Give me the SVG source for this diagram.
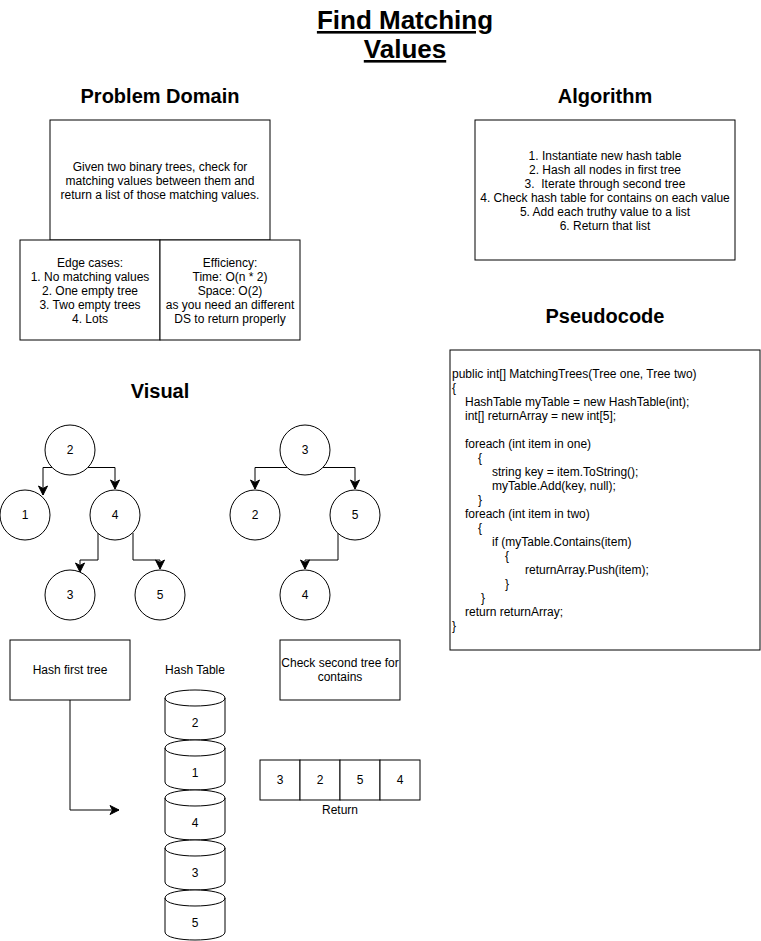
<svg xmlns="http://www.w3.org/2000/svg" width="761" height="941" viewBox="0 0 761 941">
<style>
text{font-family:"Liberation Sans",Arial,Helvetica,sans-serif;font-size:12px;fill:#000}
.c{text-anchor:middle}
.h{font-size:20px;font-weight:bold;text-anchor:middle}
.t{font-size:26px;font-weight:bold;text-anchor:middle;text-decoration:underline}
.box{fill:#fff;stroke:#000;stroke-width:1}
.e{fill:none;stroke:#000;stroke-width:1;marker-end:url(#arr)}
</style>
<defs>
<marker id="arr" markerUnits="userSpaceOnUse" viewBox="-10 -6 12 12" refX="0" refY="0" markerWidth="12" markerHeight="12" orient="auto">
<path d="M0,0 L-9,-4.5 L-6.5,0 L-9,4.5 Z" fill="#000" stroke="#000" stroke-width="1"/>
</marker>
</defs>
<rect width="761" height="941" fill="#fff"/>

<g id="title">
<text class="t" x="405" y="29">Find Matching</text>
<text class="t" x="405" y="58">Values</text>
</g>
<g id="h-problem"><text class="h" x="160" y="103">Problem Domain</text></g>
<g id="h-algorithm"><text class="h" x="605" y="103">Algorithm</text></g>
<g id="h-pseudocode"><text class="h" x="605" y="323">Pseudocode</text></g>
<g id="h-visual"><text class="h" x="160" y="398">Visual</text></g>

<g id="problem">
<rect class="box" x="50" y="120" width="220" height="120"/>
<text class="c" x="160" y="171">Given two binary trees, check for</text>
<text class="c" x="160" y="185">matching values between them and</text>
<text class="c" x="160" y="199">return a list of those matching values.</text>
</g>
<g id="edge-cases">
<rect class="box" x="20" y="240" width="140" height="100"/>
<text class="c" x="90" y="267">Edge cases:</text>
<text class="c" x="90" y="281">1. No matching values</text>
<text class="c" x="90" y="295">2. One empty tree</text>
<text class="c" x="90" y="309">3. Two empty trees</text>
<text class="c" x="90" y="323">4. Lots</text>
</g>
<g id="efficiency">
<rect class="box" x="160" y="240" width="140" height="100"/>
<text class="c" x="230" y="267">Efficiency:</text>
<text class="c" x="230" y="281">Time: O(n * 2)</text>
<text class="c" x="230" y="295">Space: O(2)</text>
<text class="c" x="230" y="309">as you need an different</text>
<text class="c" x="230" y="323">DS to return properly</text>
</g>
<g id="algorithm">
<rect class="box" x="475" y="120" width="260" height="140"/>
<text class="c" x="605" y="160">1. Instantiate new hash table</text>
<text class="c" x="605" y="174">2. Hash all nodes in first tree</text>
<text class="c" x="605" y="188" xml:space="preserve">3.  Iterate through second tree</text>
<text class="c" x="605" y="202">4. Check hash table for contains on each value</text>
<text class="c" x="605" y="216">5. Add each truthy value to a list</text>
<text class="c" x="605" y="230">6. Return that list</text>
</g>
<g id="pseudocode">
<rect class="box" x="450" y="350" width="310" height="300"/>
<text x="452" y="378">public int[] MatchingTrees(Tree one, Tree two)</text>
<text x="452" y="392">{</text>
<text x="465" y="406">HashTable myTable = new HashTable(int);</text>
<text x="465" y="420">int[] returnArray = new int[5];</text>
<text x="465" y="448">foreach (int item in one)</text>
<text x="478" y="462">{</text>
<text x="492" y="476">string key = item.ToString();</text>
<text x="492" y="490">myTable.Add(key, null);</text>
<text x="478" y="504">}</text>
<text x="465" y="518">foreach (int item in two)</text>
<text x="478" y="532">{</text>
<text x="492" y="546">if (myTable.Contains(item)</text>
<text x="505" y="560">{</text>
<text x="525" y="574">returnArray.Push(item);</text>
<text x="505" y="588">}</text>
<text x="481" y="602">}</text>
<text x="465" y="616">return returnArray;</text>
<text x="452" y="630">}</text>
</g>

<g id="connectors">
<path class="e" d="M52,467.5 H43 V495"/>
<path class="e" d="M88,467.5 H115 V489"/>
<path class="e" d="M98,533 V560 H80 V572"/>
<path class="e" d="M133,533 V560 H160 V569"/>
<path class="e" d="M287,467.5 H255 V489"/>
<path class="e" d="M323,467.5 H355 V489"/>
<path class="e" d="M338,533 V560 H305 V569"/>
<path class="e" d="M70,700 V810 H119"/>
</g>

<g id="t1-n2"><circle class="box" cx="70" cy="450" r="25"/><text class="c" x="70" y="454">2</text></g>
<g id="t1-n1"><circle class="box" cx="25" cy="515" r="25"/><text class="c" x="25" y="519">1</text></g>
<g id="t1-n4"><circle class="box" cx="115" cy="515" r="25"/><text class="c" x="115" y="519">4</text></g>
<g id="t1-n3"><circle class="box" cx="70" cy="595" r="25"/><text class="c" x="70" y="599">3</text></g>
<g id="t1-n5"><circle class="box" cx="160" cy="595" r="25"/><text class="c" x="160" y="599">5</text></g>

<g id="t2-n3"><circle class="box" cx="305" cy="450" r="25"/><text class="c" x="305" y="454">3</text></g>
<g id="t2-n2"><circle class="box" cx="255" cy="515" r="25"/><text class="c" x="255" y="519">2</text></g>
<g id="t2-n5"><circle class="box" cx="355" cy="515" r="25"/><text class="c" x="355" y="519">5</text></g>
<g id="t2-n4"><circle class="box" cx="305" cy="595" r="25"/><text class="c" x="305" y="599">4</text></g>

<g id="hash-first">
<rect class="box" x="10" y="640" width="120" height="60"/>
<text class="c" x="70" y="674">Hash first tree</text>
</g>
<g id="hash-table-label"><text class="c" x="195" y="674">Hash Table</text></g>
<g id="cyl-2">
<path class="box" d="M165,698 C165,687.33 225,687.33 225,698 L225,732 C225,742.67 165,742.67 165,732 Z"/>
<path fill="none" stroke="#000" d="M165,698 C165,708.67 225,708.67 225,698"/>
<text class="c" x="195" y="727">2</text>
</g>
<g id="cyl-1">
<path class="box" d="M165,748 C165,737.33 225,737.33 225,748 L225,782 C225,792.67 165,792.67 165,782 Z"/>
<path fill="none" stroke="#000" d="M165,748 C165,758.67 225,758.67 225,748"/>
<text class="c" x="195" y="777">1</text>
</g>
<g id="cyl-4">
<path class="box" d="M165,798 C165,787.33 225,787.33 225,798 L225,832 C225,842.67 165,842.67 165,832 Z"/>
<path fill="none" stroke="#000" d="M165,798 C165,808.67 225,808.67 225,798"/>
<text class="c" x="195" y="827">4</text>
</g>
<g id="cyl-3">
<path class="box" d="M165,848 C165,837.33 225,837.33 225,848 L225,882 C225,892.67 165,892.67 165,882 Z"/>
<path fill="none" stroke="#000" d="M165,848 C165,858.67 225,858.67 225,848"/>
<text class="c" x="195" y="877">3</text>
</g>
<g id="cyl-5">
<path class="box" d="M165,898 C165,887.33 225,887.33 225,898 L225,932 C225,942.67 165,942.67 165,932 Z"/>
<path fill="none" stroke="#000" d="M165,898 C165,908.67 225,908.67 225,898"/>
<text class="c" x="195" y="927">5</text>
</g>

<g id="check-second">
<rect class="box" x="280" y="640" width="120" height="60"/>
<text class="c" x="340" y="667">Check second tree for</text>
<text class="c" x="340" y="681">contains</text>
</g>
<g id="return-array">
<rect class="box" x="260" y="760" width="40" height="40"/>
<rect class="box" x="300" y="760" width="40" height="40"/>
<rect class="box" x="340" y="760" width="40" height="40"/>
<rect class="box" x="380" y="760" width="40" height="40"/>
<text class="c" x="280" y="784">3</text>
<text class="c" x="320" y="784">2</text>
<text class="c" x="360" y="784">5</text>
<text class="c" x="400" y="784">4</text>
<text class="c" x="340" y="814">Return</text>
</g>
</svg>
